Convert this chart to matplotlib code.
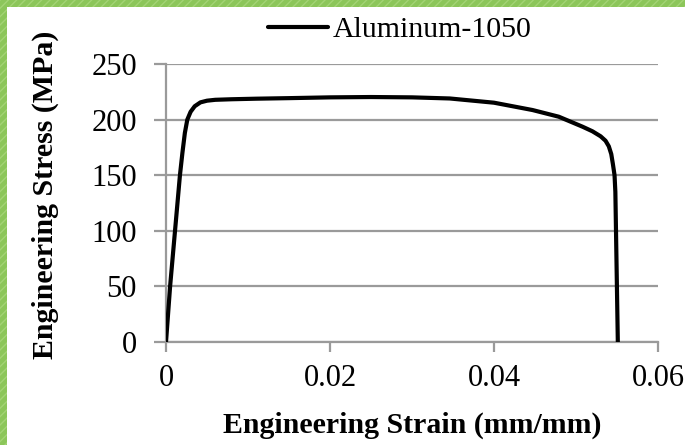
import matplotlib
matplotlib.use("Agg")
import matplotlib.pyplot as plt
from matplotlib.patches import Rectangle

# stress-strain curve
strain = [0.0, 0.0005, 0.0011, 0.0017, 0.0020, 0.0023, 0.0026, 0.0030, 0.0035,
          0.0042, 0.0050, 0.0060, 0.0080, 0.0110, 0.0150, 0.0200, 0.0250,
          0.0300, 0.0346, 0.0400, 0.0447, 0.0479, 0.0508, 0.0520, 0.0530,
          0.0536, 0.0540, 0.0543, 0.0545, 0.0547, 0.0548, 0.0551]
stress = [0, 50, 100, 150, 170, 188, 200, 207, 212,
          215.5, 217, 217.8, 218.3, 218.8, 219.3, 220, 220.3,
          220, 219, 215.2, 208.6, 202.6, 193.6, 189.5, 185,
          181, 176, 169, 160, 150, 135, 0]

x_ticks = [0, 0.02, 0.04, 0.06]
x_tick_labels = ["0", "0.02", "0.04", "0.06"]
y_ticks = [0, 50, 100, 150, 200, 250]
series_name = "Aluminum-1050"

plt.rcParams["font.family"] = ["Liberation Serif", "DejaVu Serif"]

W, H = 685, 445
fig = plt.figure(figsize=(W / 100, H / 100), dpi=100)
fig.patch.set_facecolor("white")

# green frame on top and left edges
green = "#8cc65a"
for (x0, y0, w, h) in [(0, 1 - 7 / H, 1, 7 / H), (0, 0, 7 / W, 1)]:
    fig.patches.append(Rectangle((x0, y0), w, h, transform=fig.transFigure,
                                 facecolor=green, edgecolor="#a3d475",
                                 hatch="////", linewidth=0, zorder=0))

ax = fig.add_axes([166 / W, 1 - 342 / H, (658 - 166) / W, (342 - 64) / H])
grid_col = "#9a9a9a"
ax.plot(strain, stress, color="black", lw=3, label=series_name,
        solid_capstyle="round", solid_joinstyle="round", zorder=3)

ax.set_xlim(0, 0.06)
ax.set_ylim(0, 250)
ax.set_xticks(x_ticks)
ax.set_xticklabels(x_tick_labels)
ax.set_yticks(y_ticks)
ax.yaxis.grid(True, color=grid_col, lw=1.6)
ax.set_axisbelow(True)
for s in ["top", "right"]:
    ax.spines[s].set_visible(False)
for s in ["left", "bottom"]:
    ax.spines[s].set_color(grid_col)
    ax.spines[s].set_linewidth(1.6)
ax.tick_params(axis="both", direction="out", width=1.6,
               color=grid_col, labelsize=22, labelcolor="black")
ax.tick_params(axis="y", length=9, pad=12)
ax.tick_params(axis="x", length=7, pad=9)

fig.legend(loc="center", bbox_to_anchor=(400 / W, 1 - 30 / H), frameon=False,
           fontsize=21.5, handlelength=2.0, handletextpad=0.15,
           borderaxespad=0, borderpad=0)

fig.text(412 / W, 1 - 425 / H, "Engineering Strain (mm/mm)", ha="center",
         va="center", fontsize=21.5, fontweight="bold")
fig.text(45 / W, 1 - 195 / H, "Engineering Stress (MPa)", ha="center",
         va="center", rotation=90, fontsize=21.5, fontweight="bold")

fig.savefig("out.png", dpi=100)
